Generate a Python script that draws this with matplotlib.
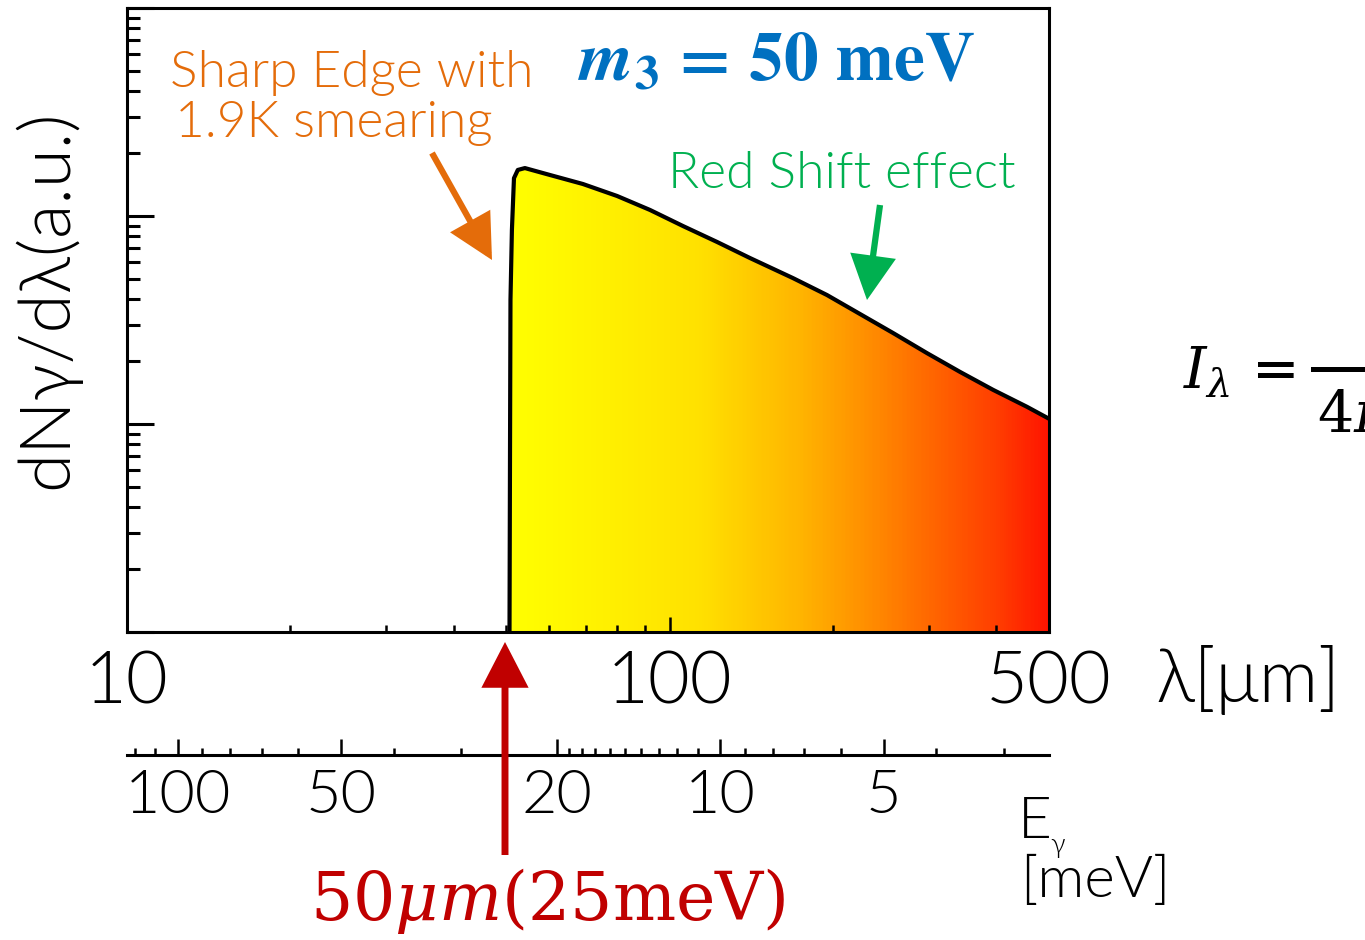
import numpy as np
import matplotlib

matplotlib.use("Agg")  # headless
import matplotlib.pyplot as plt
from matplotlib.colors import LinearSegmentedColormap
from matplotlib.patches import FancyArrowPatch, ArrowStyle, Polygon
from matplotlib.lines import Line2D
from matplotlib.ticker import NullFormatter

W, H = 1365, 940
HC = 1239.84  # meV * um

# spectrum: wavelength [um] vs dN/dlambda [a.u.]
wavelength = [50.68, 50.79, 50.89, 51.2, 51.65, 52.5, 54.1, 60.2, 69.2, 80.0, 92.0,
              105.8, 122.3, 140.6, 168.7, 194.9, 224.2, 257.9, 298.1,
              342.8, 394.3, 455.3, 500.0]
flux = [1.0, 7.5, 39.5, 85.6, 152, 166.5, 170, 157.4, 142.5, 124.8, 106.9,
        89.5, 75.0, 62.8, 50.3, 41.7, 33.8, 27.4, 21.9,
        17.8, 14.6, 12.1, 10.6]

# axes ticks
lam_ticks = [10, 100, 500]
lam_labels = ["10", "100", "500"]
e_major = [100, 50, 20, 10, 5]
e_labels = ["100", "50", "20", "10", "5"]
e_minor = [120, 110, 90, 80, 70, 60, 40, 30, 19, 18, 17, 16, 15, 14, 13, 12, 11,
           9, 8, 7, 6, 4, 3]

# fill gradient (yellow -> red along wavelength)
grad_pos = [0.0, 0.35, 0.54, 0.67, 0.91, 1.0]
grad_col = ["#ffff00", "#ffe100", "#ffb400", "#ff8c00", "#ff3c00", "#ff1400"]

ORANGE = "#e46c0a"
GREEN = "#00b050"
BLUE = "#0070c0"
DARKRED = "#c00000"

plt.rcParams["font.family"] = ["Lato", "DejaVu Sans"]
plt.rcParams["font.weight"] = 300


def fx(px):
    return px / W


def fy(py):
    return 1 - py / H


def put(px, py, s, **kw):
    kw.setdefault("va", "baseline")
    return fig.text(fx(px), fy(py), s, **kw)


def arrow(p0, p1, color, lw=4.5):
    style = ArrowStyle("-|>", head_length=25, head_width=12.9)
    a = FancyArrowPatch((fx(p0[0]), fy(p0[1])), (fx(p1[0]), fy(p1[1])),
                        transform=fig.transFigure, arrowstyle=style,
                        mutation_scale=1, lw=lw, color=color,
                        shrinkA=0, shrinkB=0, capstyle="butt", joinstyle="miter")
    fig.patches.append(a)


fig = plt.figure(figsize=(W / 100, H / 100), dpi=100)

# main spectrum panel
ax = fig.add_axes([fx(127), fy(632), (1049 - 127) / W, (632 - 8) / H])
ax.set_xscale("log")
ax.set_yscale("log")
ax.set_xlim(10, 500)
ax.set_ylim(1, 1000)

cmap = LinearSegmentedColormap.from_list("edge", list(zip(grad_pos, grad_col)))
xe = np.geomspace(wavelength[0], wavelength[-1], 400)
shade = np.linspace(0, 1, len(xe) - 1)[None, :]
mesh = ax.pcolormesh(xe, [1, 1000], shade, cmap=cmap, shading="flat",
                     antialiased=False, linewidth=0)
region = Polygon(list(zip(wavelength, flux)) + [(wavelength[-1], 1.0)], closed=True,
                 fc="none", ec="none", transform=ax.transData)
ax.add_patch(region)
mesh.set_clip_path(region)
ax.plot(wavelength, flux, color="k", lw=3.0, solid_joinstyle="round",
        solid_capstyle="round")

for s in ax.spines.values():
    s.set_linewidth(2.2)
ax.tick_params(axis="both", which="both", direction="in", top=False, right=False)
ax.tick_params(axis="y", which="major", length=19.5, width=2.2)
ax.tick_params(axis="y", which="minor", length=9.5, width=2.2)
ax.tick_params(axis="x", which="major", length=11, width=1.8, labelsize=52, pad=13)
ax.tick_params(axis="x", which="minor", length=5, width=1.8)
ax.set_xticks(lam_ticks, lam_labels)
ax.xaxis.set_minor_formatter(NullFormatter())
ax.yaxis.set_major_formatter(NullFormatter())
ax.yaxis.set_minor_formatter(NullFormatter())

# photon energy scale below
ax2 = fig.add_axes([fx(127), fy(755), (1049 - 127) / W, 1e-4])
ax2.set_xscale("log")
ax2.set_xlim(HC / 10, HC / 500)
for s in ["top", "left", "right"]:
    ax2.spines[s].set_visible(False)
ax2.spines["bottom"].set_linewidth(2.2)
ax2.patch.set_visible(False)
ax2.set_yticks([])
ax2.set_xticks(e_major, e_labels)
ax2.set_xticks(e_minor, minor=True)
ax2.xaxis.set_minor_formatter(NullFormatter())
ax2.tick_params(axis="x", which="both", direction="in", width=1.8)
ax2.tick_params(axis="x", which="major", length=11.5, labelsize=44, pad=10)
ax2.tick_params(axis="x", which="minor", length=5)

# labels
fig.text(fx(47), fy(299), "dNγ/dλ(a.u.)", rotation=90, ha="center", va="center",
         fontsize=51)
put(1155, 702, "λ[μm]", fontsize=53)
put(1018, 838, "E", fontsize=42)
put(1050, 853, "γ", fontsize=20)
put(1020, 897, "[meV]", fontsize=42)

put(170, 87, "Sharp Edge with", fontsize=37, color=ORANGE)
put(175, 137, "1.9K smearing", fontsize=37, color=ORANGE)
put(668, 188, "Red Shift effect", fontsize=37, color=GREEN)
put(578, 80, r"$\mathbfit{m}_{\mathbf{3}}$ = 50 meV", fontsize=50,
    color=BLUE, family="STIXGeneral", weight="bold", math_fontfamily="stix")
put(310, 920, r"50$\mu m$(25meV)", fontsize=48, color=DARKRED,
    family="DejaVu Serif", weight="normal", math_fontfamily="dejavuserif")

# partial formula at right edge
put(1183, 388, r"$I_{\lambda}$ =", fontsize=41, family="DejaVu Serif",
    weight="normal", math_fontfamily="dejavuserif")
fig.lines.append(Line2D([fx(1313), fx(1370)], [fy(369), fy(369)],
                        transform=fig.transFigure, color="k", lw=3.6))
put(1317, 432, r"$4\pi$", fontsize=41, math_fontfamily="dejavuserif")

# arrows
arrow((432, 153), (492, 260), ORANGE)
arrow((880, 205), (867, 300), GREEN)
arrow((505, 855), (505, 642), DARKRED, lw=5)

fig.savefig("out.png", dpi=100)
